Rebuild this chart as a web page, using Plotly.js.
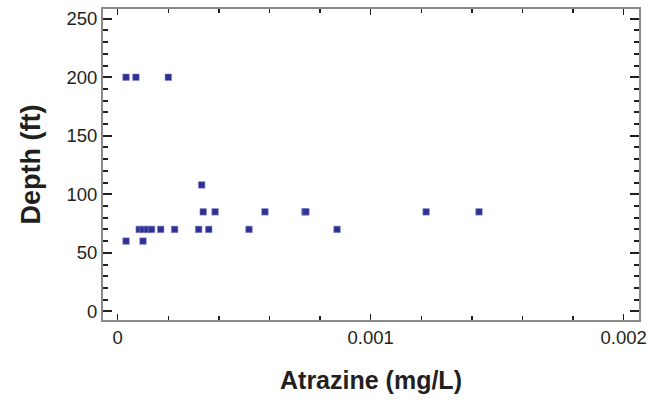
<!DOCTYPE html>
<html>
<head>
<meta charset="utf-8">
<script src="https://cdn.plot.ly/plotly-3.0.1.min.js"></script>
<style>html,body{margin:0;padding:0;background:#fff;}#chart{width:662px;height:400px;}</style>
</head>
<body>
<div id="chart"></div>
<script>
// Atrazine concentration (mg/L) and well depth (ft)
const atrazine = [
  0.000033, 0.000072, 0.000200,
  0.000033, 0.000100,
  0.000085, 0.000101, 0.000117, 0.000134, 0.000170, 0.000225, 0.000320, 0.000360, 0.000519, 0.000867,
  0.000338, 0.000385, 0.000582, 0.000740, 0.000744, 0.001219, 0.001428,
  0.000332
];
const depth = [
  200, 200, 200,
  60, 60,
  70, 70, 70, 70, 70, 70, 70, 70, 70, 70,
  85, 85, 85, 85, 85, 85, 85,
  108
];
const xTickVals = [0, 0.001, 0.002];
const xTickText = ['0', '0.001', '0.002'];
const yTickVals = [0, 50, 100, 150, 200, 250];

const textColor = '#231f20';
const trace = {
  x: atrazine, y: depth, type: 'scatter', mode: 'markers',
  marker: {symbol: 'square', size: 6.5, color: '#2e3192', line: {width: 0.6, color: '#7f83c4'}},
  hoverinfo: 'x+y'
};
const axisCommon = {
  showgrid: false, zeroline: false, showline: true, linecolor: '#8a8a8a', linewidth: 2,
  mirror: 'allticks', ticks: 'inside', tickcolor: textColor,
  tickfont: {family: 'Liberation Sans, Arial, sans-serif', size: 18.5, color: textColor}
};
const layout = {
  width: 662, height: 400,
  margin: {l: 103, r: 23, t: 9, b: 80},
  paper_bgcolor: '#fff', plot_bgcolor: '#fff',
  showlegend: false,
  xaxis: Object.assign({}, axisCommon, {
    range: [-0.0000581, 0.0020605],
    tickmode: 'array', tickvals: xTickVals, ticktext: xTickText,
    ticklen: 6, tickwidth: 1.5,
    minor: {dtick: 0.0002, tick0: 0, ticks: 'inside', ticklen: 4, tickwidth: 1.5, tickcolor: textColor, showgrid: false},
    title: {text: '<b>Atrazine (mg/L)</b>', font: {family: 'Liberation Sans, Arial, sans-serif', size: 25, color: textColor}, standoff: 24}
  }),
  yaxis: Object.assign({}, axisCommon, {
    range: [-7.4, 258.3],
    tickmode: 'array', tickvals: yTickVals,
    ticklen: 9, tickwidth: 2,
    minor: {dtick: 10, tick0: 0, ticks: 'inside', ticklen: 5, tickwidth: 2, tickcolor: textColor, showgrid: false},
    title: {text: '<b>Depth (ft)</b>', font: {family: 'Liberation Sans, Arial, sans-serif', size: 27, color: textColor}, standoff: 18}
  })
};
Plotly.newPlot('chart', [trace], layout, {displayModeBar: false, staticPlot: true});
</script>
</body>
</html>
